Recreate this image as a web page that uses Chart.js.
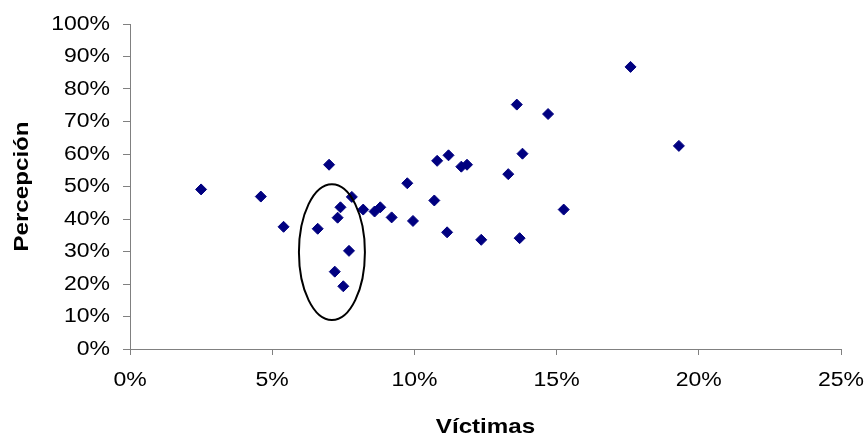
<!DOCTYPE html>
<html>
<head>
<meta charset="utf-8">
<script src="https://cdn.jsdelivr.net/npm/chart.js@4"></script>
<style>
  html, body { margin: 0; padding: 0; background: #fff; }
  #wrap { width: 866px; height: 440px; }
</style>
</head>
<body>
<div id="wrap"><canvas id="myChart"></canvas></div>
<script>
// Victims rate (x) against perception (y), both in percent
const victimas = [
    2.5, 4.6, 5.4, 7.0, 6.6, 7.8, 7.4, 7.3, 8.2, 8.6, 8.8, 9.2, 9.75, 9.95, 7.7, 7.2,
    7.5, 17.6, 13.6, 14.7, 19.3, 13.8, 10.8, 11.2, 11.65, 11.85, 13.3, 10.7, 11.15, 12.35, 13.7, 15.25
];
const percepcion = [
    49.1, 46.9, 37.6, 56.7, 37.0, 46.8, 43.6, 40.4, 42.9, 42.3, 43.6, 40.5, 51.0, 39.4, 30.2, 23.8,
    19.3, 86.8, 75.2, 72.3, 62.5, 60.1, 57.9, 59.6, 56.1, 56.7, 53.8, 45.7, 35.9, 33.6, 34.1, 42.9
];
const xTicks = [0, 5, 10, 15, 20, 25];
const yTicks = [0, 10, 20, 30, 40, 50, 60, 70, 80, 90, 100];
const xTitle = 'Víctimas';
const yTitle = 'Percepción';

// Ellipse around the low-perception group (centre and radii in data units)
const grupo = { cx: 7.1, cy: 29.8, rx: 1.16, ry: 20.9 };

const points = victimas.map((v, i) => ({ x: v, y: percepcion[i] }));

const FAMILY = '"Liberation Sans", Arial, sans-serif';
const STRETCH = 1.15; // labels are drawn a little wider than the plain font

function wideText(ctx, text, x, y, align, angle) {
    ctx.save();
    ctx.translate(x, y);
    if (angle) ctx.rotate(angle);
    ctx.scale(STRETCH, 1);
    ctx.textAlign = align;
    ctx.textBaseline = 'middle';
    ctx.fillText(text, 0, 0);
    ctx.restore();
}

// Tick labels and axis titles
const labelsPlugin = {
    id: 'labels',
    afterDraw(chart) {
        const { ctx, chartArea, scales: { x, y } } = chart;
        ctx.save();
        ctx.fillStyle = '#000';
        ctx.font = '20px ' + FAMILY;
        xTicks.forEach(v => wideText(ctx, v + '%', x.getPixelForValue(v), chartArea.bottom + 31, 'center'));
        yTicks.forEach(v => wideText(ctx, v + '%', chartArea.left - 20, y.getPixelForValue(v), 'right'));
        ctx.font = 'bold 21px ' + FAMILY;
        wideText(ctx, xTitle, (chartArea.left + chartArea.right) / 2, 427, 'center');
        wideText(ctx, yTitle, 22, (chartArea.top + chartArea.bottom) / 2, 'center', -Math.PI / 2);
        ctx.restore();
    }
};

const ellipsePlugin = {
    id: 'ellipse',
    afterDatasetsDraw(chart) {
        const { ctx, scales: { x, y } } = chart;
        const cx = x.getPixelForValue(grupo.cx);
        const cy = y.getPixelForValue(grupo.cy);
        const rx = x.getPixelForValue(grupo.cx + grupo.rx) - cx;
        const ry = cy - y.getPixelForValue(grupo.cy + grupo.ry);
        ctx.save();
        ctx.beginPath();
        ctx.ellipse(cx, cy, rx, ry, 0, 0, Math.PI * 2);
        ctx.lineWidth = 2;
        ctx.strokeStyle = '#000';
        ctx.stroke();
        ctx.restore();
    }
};

const ctx = document.getElementById('myChart').getContext('2d');
const myChart = new Chart(ctx, {
    type: 'scatter',
    data: {
        datasets: [{
            data: points,
            pointStyle: 'rectRot',
            pointRadius: 5.5,
            pointHoverRadius: 5.5,
            backgroundColor: '#000080',
            borderColor: '#000080',
            borderWidth: 1
        }]
    },
    options: {
        responsive: true,
        maintainAspectRatio: false,
        animation: false,
        layout: { padding: { top: 24, right: 25, left: 0, bottom: 0 } },
        plugins: {
            legend: { display: false },
            tooltip: { enabled: false }
        },
        scales: {
            x: {
                type: 'linear',
                min: 0,
                max: 25,
                afterFit(scale) { scale.height = 91; },
                afterBuildTicks(scale) { scale.ticks = xTicks.map(v => ({ value: v })); },
                ticks: { display: false },
                grid: { drawOnChartArea: false, drawTicks: true, tickLength: 6, color: '#808080' },
                border: { color: '#808080', width: 1 }
            },
            y: {
                type: 'linear',
                min: 0,
                max: 100,
                afterFit(scale) { scale.width = 130; },
                afterBuildTicks(scale) { scale.ticks = yTicks.map(v => ({ value: v })); },
                ticks: { display: false },
                grid: { drawOnChartArea: false, drawTicks: true, tickLength: 7, color: '#808080' },
                border: { color: '#808080', width: 1 }
            }
        }
    },
    plugins: [ellipsePlugin, labelsPlugin]
});
</script>
</body>
</html>
